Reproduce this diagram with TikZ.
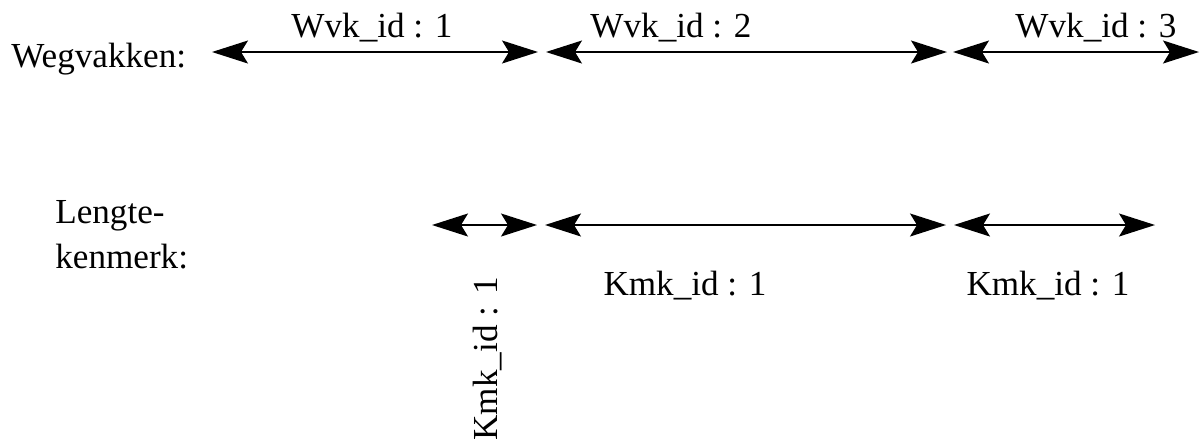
\documentclass[tikz,border=0pt]{standalone}
\usepackage{fontspec}
\setmainfont{Liberation Serif}
\usetikzlibrary{arrows.meta}

\begin{document}
\begin{tikzpicture}[x=0.02cm,y=-0.02cm,
		pijl/.style={line width=0.8pt,{Stealth[length=0.72cm,width=0.46cm,inset=0.14cm]}-{Stealth[length=0.72cm,width=0.46cm,inset=0.14cm]}},
		tekst/.style={font=\fontsize{20}{24}\selectfont,inner sep=0pt}]
		\useasboundingbox (0,0) rectangle (1200,441);
		% wegvakken
		\node[tekst,anchor=base west] (wvk) at (11,67) {Wegvakken:};
		\coordinate (w0) at (212,52);
		\coordinate (w1) at (538,52);
		\coordinate (w2) at (546,52);
		\coordinate (w3) at (947,52);
		\coordinate (w4) at (953,52);
		\coordinate (w5) at (1199,52);
		\draw[pijl] (w0) -- (w1);
		\draw[pijl] (w2) -- (w3);
		\draw[pijl] (w4) -- (w5);
		\node[tekst,anchor=base] (wid1) at (372,37) {Wvk\_id : 1};
		\node[tekst,anchor=base] (wid2) at (671,37) {Wvk\_id : 2};
		\node[tekst,anchor=base] (wid3) at (1096,37) {Wvk\_id : 3};
		% lengtekenmerk
		\node[tekst,anchor=base west,align=left,font=\fontsize{20}{25.5}\selectfont] (lkm) at (55,268) {Lengte-\\kenmerk:};
		\coordinate (k0) at (432,225);
		\coordinate (k1) at (537,225);
		\coordinate (k2) at (545,225);
		\coordinate (k3) at (946,225);
		\coordinate (k4) at (954,225);
		\coordinate (k5) at (1155,225);
		\draw[pijl] (k0) -- (k1);
		\draw[pijl] (k2) -- (k3);
		\draw[pijl] (k4) -- (k5);
		\node[tekst,rotate=90,anchor=base east] (kid1) at (497,277) {Kmk\_id : 1};
		\node[tekst,anchor=base] (kid2) at (685,295) {Kmk\_id : 1};
		\node[tekst,anchor=base] (kid3) at (1048,295) {Kmk\_id : 1};
\end{tikzpicture}
\end{document}
